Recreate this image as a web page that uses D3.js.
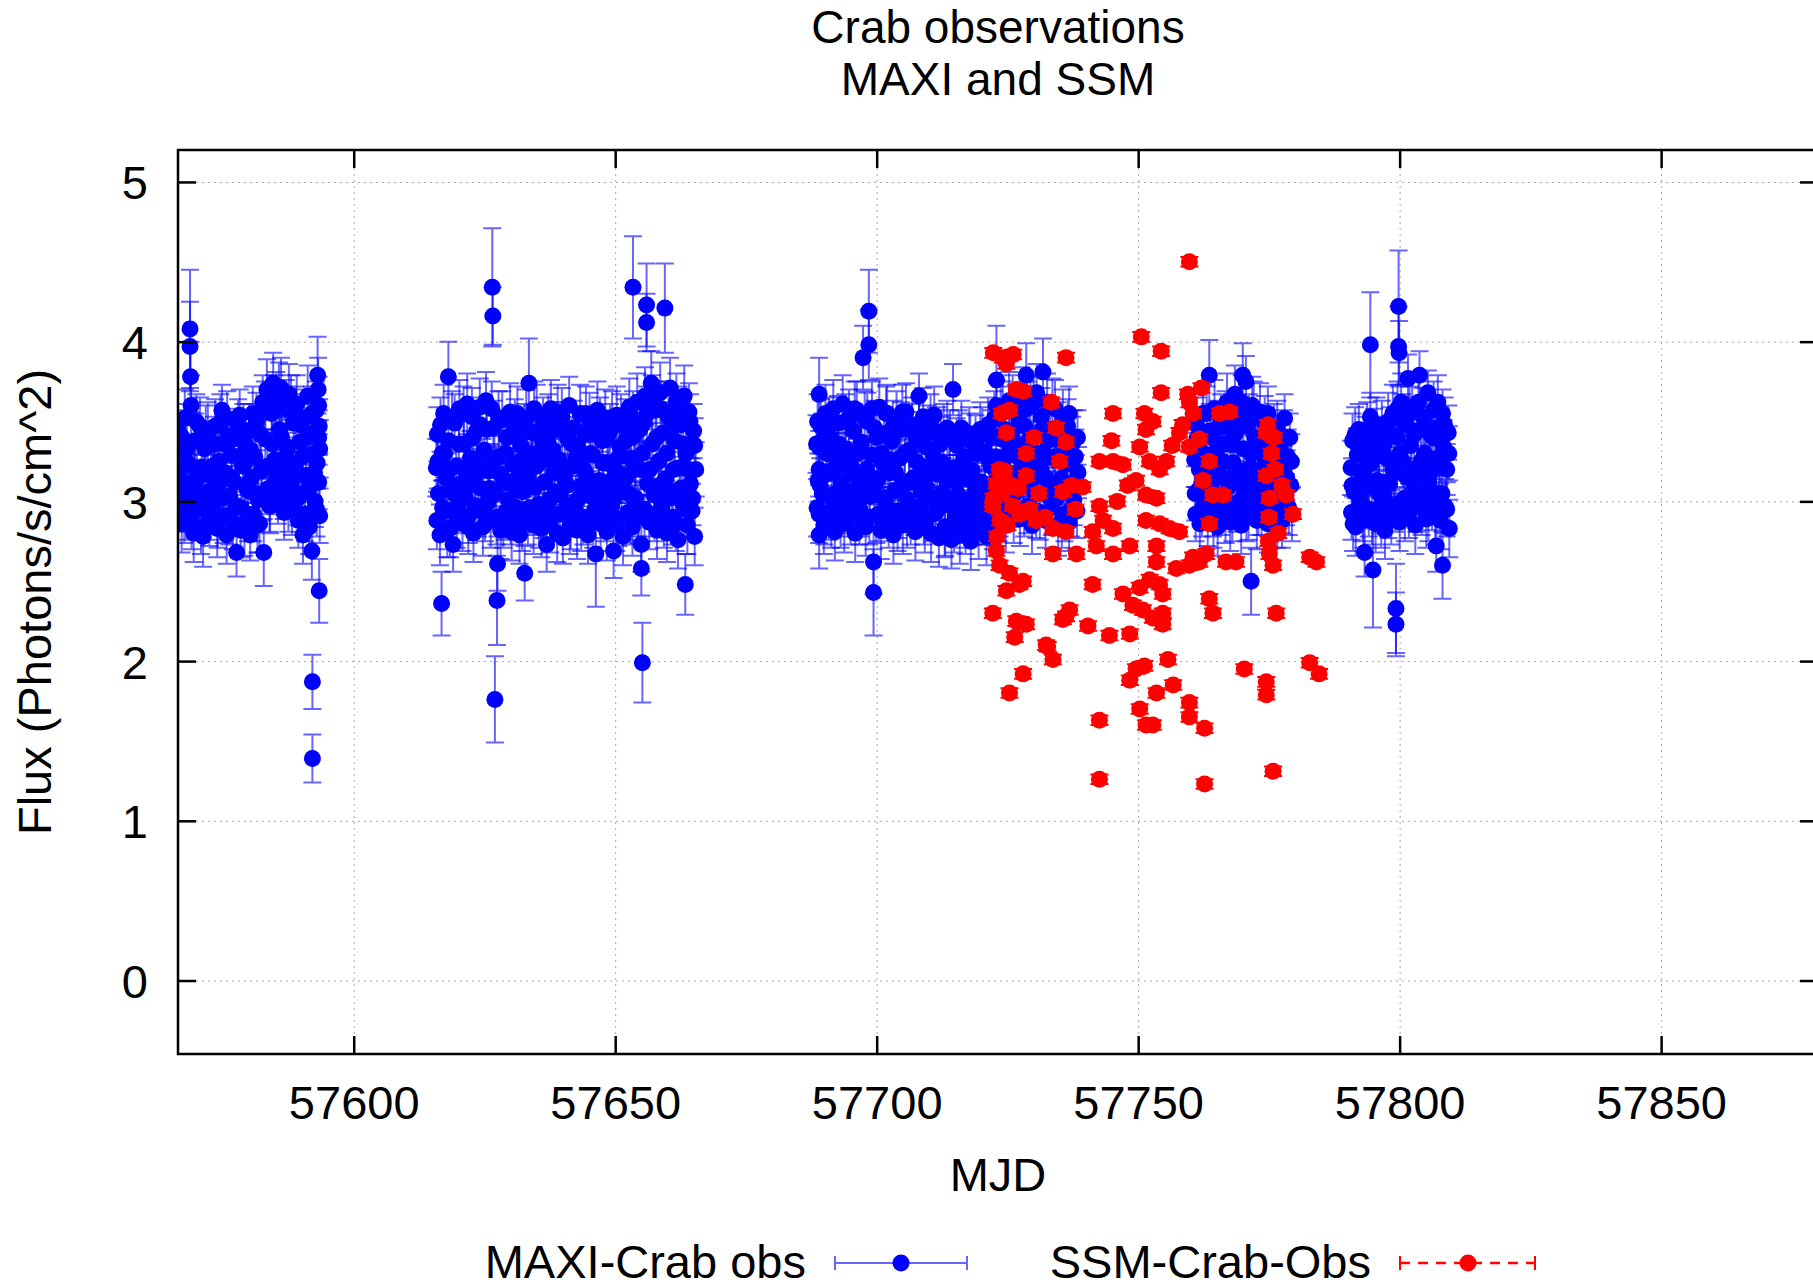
<!DOCTYPE html>
<html>
<head>
<meta charset="utf-8">
<script src="https://cdn.jsdelivr.net/npm/d3@7"></script>
<style>
  body { margin: 0; background: #fff; }
  text { font-family: "Liberation Sans", Arial, Helvetica, sans-serif; fill: #000; }
</style>
</head>
<body>
<script>
// Tick values and labels
const xTicks = [57600, 57650, 57700, 57750, 57800, 57850]
const yTicks = [0, 1, 2, 3, 4, 5]
const titleLines = ['Crab observations', 'MAXI and SSM']
const xLabel = 'MJD'
const yLabel = 'Flux (Photons/s/cm^2)'
const seriesNames = ['MAXI-Crab obs', 'SSM-Crab-Obs']

// MAXI points: [MJD, flux, error], one array per observing window
const maxi1 = [
  [57566.4,3.45,.16],[57566.5,3.19,.17],[57566.4,2.99,.18],[57566.8,3.31,.17],
  [57567.1,2.86,.18],[57567.4,3.12,.16],[57567.7,3.52,.18],
  [57568.0,2.93,.17],[57568.3,3.24,.16],[57568.7,4.08,.37],[57568.7,3.97,.28],[57568.8,3.78,.22],[57568.9,3.60,.19],
  [57569.1,3.05,.17],[57569.4,2.80,.18],[57569.7,3.38,.17],
  [57570.0,3.14,.16],[57570.3,2.95,.17],[57570.6,3.47,.18],[57570.9,3.21,.16],
  [57571.2,2.78,.19],[57571.5,3.33,.17],[57571.8,3.02,.16],
  [57572.1,3.44,.18],[57572.4,2.89,.17],[57572.7,3.16,.16],
  [57573.0,2.97,.17],[57573.3,3.36,.17],[57573.6,3.08,.16],[57573.9,2.83,.18],
  [57574.2,3.25,.17],[57574.5,3.49,.18],[57574.8,3.57,.16],
  [57575.1,2.91,.17],[57575.4,3.18,.16],[57575.7,2.79,.18],
  [57576.0,3.41,.17],[57576.3,3.03,.16],[57576.6,3.29,.17],[57576.9,2.87,.17],
  [57577.2,3.12,.16],[57577.6,2.68,.15],[57577.9,3.46,.18],
  [57578.2,3.54,.16],[57578.5,2.96,.17],[57578.8,3.22,.16],
  [57579.1,2.84,.18],[57579.4,3.35,.17],[57579.7,3.07,.16],
  [57580.0,3.44,.17],[57580.2,2.79,.16],[57580.5,3.15,.16],[57580.8,2.92,.17],
  [57581.1,3.28,.17],[57581.4,3.50,.18],[57581.7,3.01,.16],
  [57582.0,2.86,.18],[57582.3,3.19,.16],[57582.6,3.62,.17],[57582.8,2.68,.21],
  [57583.1,3.39,.17],[57583.4,3.70,.19],[57583.7,3.08,.16],
  [57584.0,2.97,.17],[57584.3,3.55,.18],[57584.6,3.74,.19],[57584.9,3.26,.17],
  [57585.2,3.63,.18],[57585.5,3.02,.16],[57585.8,3.45,.17],
  [57586.1,3.71,.19],[57586.4,3.18,.16],[57586.7,2.93,.17],
  [57587.0,3.58,.18],[57587.3,3.34,.17],[57587.6,3.67,.19],[57587.9,3.10,.16],
  [57588.2,2.96,.17],[57588.5,3.49,.18],[57588.8,3.22,.16],
  [57589.1,3.61,.18],[57589.4,2.88,.17],[57589.7,3.37,.17],
  [57590.0,3.05,.16],[57590.3,2.79,.18],[57590.6,3.52,.18],[57590.9,3.16,.16],
  [57591.2,3.66,.19],[57591.5,2.84,.17],[57591.8,3.29,.17],
  [57592.0,2.69,.18],[57592.1,1.87,.17],[57592.1,1.39,.15],[57592.3,3.43,.18],[57592.6,3.00,.16],
  [57592.8,3.57,.18],[57593.0,3.24,.16],[57593.1,3.79,.24],[57593.2,3.70,.20],[57593.3,3.60,.18],
  [57593.3,3.12,.17],[57593.4,2.44,.20],[57593.4,3.47,.17],[57593.5,2.91,.17],[57593.5,3.33,.18],
  [57566.7,3.08,.17],[57567.2,3.40,.17],[57567.6,2.91,.17],[57568.1,3.33,.17],[57568.5,3.02,.17],
  [57569.0,2.87,.17],[57569.5,3.21,.17],[57569.9,3.50,.17],[57570.4,3.05,.17],[57570.8,2.84,.17],
  [57571.3,3.18,.17],[57571.7,3.43,.17],[57572.2,3.06,.17],[57572.6,2.93,.17],[57573.1,3.22,.17],
  [57573.5,3.47,.17],[57574.0,2.88,.17],[57574.4,3.12,.17],[57574.9,3.02,.17],[57575.3,3.36,.17],
  [57575.8,3.52,.17],[57576.2,2.90,.17],[57576.7,3.15,.17],[57577.1,3.39,.17],[57577.5,2.97,.17],
  [57578.0,3.28,.17],[57578.4,2.82,.17],[57578.9,3.44,.17],[57579.3,3.10,.17],[57579.8,2.92,.17],
  [57580.3,3.32,.17],[57580.7,3.55,.17],[57581.2,3.05,.17],[57581.6,2.85,.17],[57582.1,3.42,.17],
  [57582.5,3.05,.17],[57583.0,3.58,.17],[57583.5,3.22,.17],[57583.9,2.98,.17],[57584.4,3.36,.17],
  [57584.8,3.62,.17],[57585.3,3.15,.17],[57585.7,3.70,.17],[57586.2,3.40,.17],[57586.6,3.06,.17],
  [57587.1,3.28,.17],[57587.5,2.98,.17],[57588.0,3.62,.17],[57588.4,3.14,.17],[57588.9,3.55,.17],
  [57589.3,3.02,.17],[57589.8,3.48,.17],[57590.2,3.28,.17],[57590.7,2.92,.17],[57591.1,3.40,.17],
  [57591.6,3.09,.17],[57592.0,3.55,.17],[57592.5,3.18,.17],[57592.9,2.95,.17],[57593.3,3.40,.17]
]

const maxi2 = [
  [57615.8,3.21,.18],[57615.9,2.88,.18],[57616.0,3.42,.17],[57616.2,3.05,.17],
  [57616.5,2.79,.19],[57616.8,2.36,.20],[57616.9,3.30,.17],
  [57617.2,3.55,.18],[57617.5,2.94,.17],[57617.8,3.14,.16],
  [57618.1,3.78,.22],[57618.1,3.38,.17],[57618.4,2.83,.18],[57618.7,3.07,.16],
  [57619.0,2.73,.17],[57619.3,3.49,.18],[57619.6,3.22,.16],[57619.9,2.97,.17],
  [57620.2,3.58,.18],[57620.5,3.11,.16],[57620.8,2.86,.17],
  [57621.1,3.36,.17],[57621.4,3.02,.16],[57621.7,3.61,.19],
  [57622.0,2.91,.17],[57622.3,3.27,.17],[57622.6,3.53,.18],[57622.9,2.80,.18],
  [57623.2,3.17,.16],[57623.5,3.44,.17],[57623.8,2.95,.17],
  [57624.1,3.59,.18],[57624.4,3.08,.16],[57624.7,2.84,.18],
  [57625.0,3.32,.17],[57625.3,3.63,.18],[57625.6,2.99,.16],[57625.9,3.19,.17],
  [57626.2,2.88,.17],[57626.5,4.34,.37],[57626.6,4.16,.18],[57626.7,3.46,.17],
  [57627.0,1.76,.27],[57627.1,3.05,.16],[57627.4,2.38,.28],[57627.5,2.61,.17],
  [57627.8,3.28,.17],[57628.1,2.82,.18],[57628.4,3.51,.18],
  [57628.7,3.13,.16],[57629.0,2.93,.17],[57629.3,3.40,.17],
  [57629.6,3.01,.16],[57629.9,3.56,.18],[57630.2,2.81,.18],[57630.5,3.23,.16],
  [57630.8,3.47,.17],[57631.1,2.96,.17],[57631.4,3.15,.16],
  [57631.7,2.79,.18],[57632.0,3.35,.17],[57632.3,3.06,.16],
  [57632.7,2.55,.17],[57633.0,3.52,.18],[57633.3,2.90,.17],[57633.5,3.74,.28],
  [57633.8,3.20,.16],[57634.1,3.43,.17],[57634.4,2.85,.18],
  [57634.7,3.09,.16],[57635.0,3.55,.18],[57635.3,2.98,.17],
  [57635.6,3.31,.17],[57635.9,2.83,.18],[57636.2,3.48,.17],[57636.5,3.12,.16],
  [57636.9,2.73,.17],[57637.1,3.37,.17],[57637.4,3.01,.16],
  [57637.7,3.58,.18],[57638.0,2.92,.17],[57638.3,3.18,.16],
  [57638.6,3.45,.17],[57638.9,2.80,.18],[57639.2,3.26,.17],[57639.5,3.04,.16],
  [57639.8,3.53,.18],[57640.0,2.77,.16],[57640.3,3.14,.16],
  [57640.6,2.95,.17],[57640.9,3.39,.17],[57641.2,3.60,.18],
  [57641.5,2.87,.17],[57641.8,3.22,.16],[57642.1,3.46,.17],[57642.4,3.00,.16],
  [57642.7,2.82,.18],[57643.0,3.33,.17],[57643.3,3.55,.18],
  [57643.6,3.10,.16],[57643.9,2.90,.17],[57644.2,3.42,.17],
  [57644.5,3.17,.16],[57644.8,2.79,.18],[57645.1,3.50,.18],[57645.4,3.03,.16],
  [57645.7,3.29,.17],[57646.0,2.94,.17],[57646.3,2.67,.33],
  [57646.6,3.57,.18],[57646.9,3.13,.16],[57647.2,2.86,.17],
  [57647.5,3.38,.17],[57647.8,3.06,.16],[57648.1,3.52,.18],[57648.4,2.81,.18],
  [57648.7,3.24,.16],[57649.0,3.44,.17],[57649.3,2.97,.17],
  [57649.7,2.69,.17],[57650.0,3.19,.16],[57650.3,3.54,.18],
  [57650.6,2.89,.17],[57650.9,3.34,.17],[57651.2,3.08,.16],[57651.5,2.78,.18],
  [57651.8,3.47,.17],[57652.1,3.15,.16],[57652.4,2.93,.17],
  [57652.7,3.59,.18],[57653.0,3.27,.17],[57653.4,4.34,.32],[57653.3,2.84,.18],
  [57653.6,3.41,.17],[57653.9,3.02,.16],[57654.2,3.62,.18],
  [57654.5,2.91,.17],[57654.8,3.20,.16],[57655.0,2.73,.17],[57655.0,2.58,.17],[57655.2,1.99,.25],
  [57655.4,3.49,.17],[57655.7,3.66,.18],[57656.0,4.23,.26],[57656.0,4.12,.18],[57656.2,3.11,.16],
  [57656.5,2.87,.17],[57656.9,3.74,.20],[57657.1,3.36,.17],
  [57657.4,3.04,.16],[57657.7,3.57,.18],[57658.0,2.82,.18],[57658.3,3.25,.17],
  [57658.6,3.68,.19],[57658.9,2.96,.17],[57659.2,3.43,.17],
  [57659.5,4.21,.28],[57659.6,3.14,.16],[57659.9,2.80,.18],
  [57660.2,3.53,.18],[57660.5,3.71,.19],[57660.8,3.06,.16],[57661.1,2.90,.17],
  [57661.4,3.38,.17],[57661.7,3.62,.18],[57662.0,2.76,.18],
  [57662.3,3.21,.16],[57662.6,3.48,.17],[57662.9,2.99,.17],
  [57663.2,3.66,.19],[57663.4,2.48,.19],[57663.5,3.30,.17],[57663.8,2.85,.18],
  [57664.1,3.56,.18],[57664.4,3.11,.16],[57664.7,2.94,.17],
  [57665.0,3.44,.17],[57665.2,2.78,.18],[57665.4,3.20,.17],
  [57616.1,3.25,.17],[57616.6,3.48,.17],[57617.0,2.96,.17],[57617.4,3.30,.17],[57617.9,2.82,.17],
  [57618.3,3.20,.17],[57618.8,3.52,.17],[57619.2,3.05,.17],[57619.7,2.88,.17],[57620.1,3.36,.17],
  [57620.6,3.02,.17],[57621.0,3.55,.17],[57621.5,3.18,.17],[57621.9,2.84,.17],[57622.4,3.10,.17],
  [57622.8,3.40,.17],[57623.3,2.97,.17],[57623.7,3.25,.17],[57624.2,3.48,.17],[57624.6,3.22,.17],
  [57625.1,2.92,.17],[57625.5,3.45,.17],[57626.0,3.08,.17],[57626.4,3.58,.17],[57626.9,3.26,.17],
  [57627.3,2.90,.17],[57627.7,3.52,.17],[57628.2,3.17,.17],[57628.6,2.88,.17],[57629.1,3.30,.17],
  [57629.5,3.12,.17],[57630.0,2.90,.17],[57630.4,3.41,.17],[57630.9,3.08,.17],[57631.3,3.55,.17],
  [57631.8,3.25,.17],[57632.2,2.86,.17],[57632.6,3.44,.17],[57633.1,3.14,.17],[57633.6,2.96,.17],
  [57634.0,3.30,.17],[57634.5,3.58,.17],[57634.9,3.22,.17],[57635.4,2.88,.17],[57635.8,3.40,.17],
  [57636.3,2.94,.17],[57636.7,3.26,.17],[57637.2,3.50,.17],[57637.6,2.85,.17],[57638.1,3.32,.17],
  [57638.5,3.06,.17],[57639.0,3.56,.17],[57639.4,2.92,.17],[57639.9,3.18,.17],[57640.4,3.45,.17],
  [57640.8,3.10,.17],[57641.3,2.84,.17],[57641.7,3.36,.17],[57642.2,2.96,.17],[57642.6,3.28,.17],
  [57643.1,3.02,.17],[57643.5,2.86,.17],[57644.0,3.20,.17],[57644.4,3.55,.17],[57644.9,3.08,.17],
  [57645.3,3.30,.17],[57645.8,2.88,.17],[57646.2,3.42,.17],[57646.7,3.00,.17],[57647.1,3.48,.17],
  [57647.6,3.24,.17],[57648.0,2.92,.17],[57648.5,3.40,.17],[57648.9,3.12,.17],[57649.4,3.52,.17],
  [57649.8,3.02,.17],[57650.2,2.86,.17],[57650.7,3.28,.17],[57651.1,3.50,.17],[57651.6,3.16,.17],
  [57652.0,3.38,.17],[57652.5,3.05,.17],[57652.9,2.90,.17],[57653.4,3.52,.17],[57653.8,3.20,.17],
  [57654.3,2.95,.17],[57654.7,3.45,.17],[57655.2,3.30,.17],[57655.6,2.95,.17],[57656.1,3.55,.17],
  [57656.6,3.20,.17],[57657.0,3.62,.17],[57657.5,2.92,.17],[57657.9,3.40,.17],[57658.4,3.10,.17],
  [57658.8,3.58,.17],[57659.3,2.88,.17],[57659.8,3.30,.17],[57660.3,3.02,.17],[57660.7,3.45,.17],
  [57661.2,3.20,.17],[57661.6,2.86,.17],[57662.1,3.55,.17],[57662.5,3.08,.17],[57663.0,3.36,.17],
  [57663.4,2.95,.17],[57663.9,3.20,.17],[57664.3,3.50,.17],[57664.8,3.02,.17],[57665.2,3.35,.17]
]

const maxi3 = [
  [57688.5,3.36,.18],[57688.6,2.96,.18],[57688.8,3.13,.17],
  [57689.0,3.67,.23],[57689.0,3.34,.18],[57689.0,3.20,.17],[57689.0,2.92,.18],[57689.0,2.79,.21],
  [57689.3,3.47,.17],[57689.6,3.05,.16],[57689.9,2.85,.18],
  [57690.2,3.55,.18],[57690.5,3.17,.16],[57690.8,2.93,.17],
  [57691.1,3.40,.17],[57691.4,3.02,.16],[57691.7,3.58,.18],[57692.0,2.81,.18],
  [57692.3,3.26,.17],[57692.6,3.49,.17],[57692.9,2.97,.17],
  [57693.2,3.12,.16],[57693.5,3.61,.18],[57693.8,2.86,.18],
  [57694.1,3.33,.17],[57694.4,3.06,.16],[57694.7,3.52,.18],[57695.0,2.90,.17],
  [57695.3,3.21,.16],[57695.6,3.44,.17],[57695.9,2.80,.18],
  [57696.2,3.57,.18],[57696.5,3.09,.16],[57696.8,2.95,.17],
  [57697.1,3.37,.17],[57697.4,3.90,.20],[57697.6,3.16,.16],[57697.9,2.84,.18],
  [57698.2,3.50,.18],[57698.5,4.19,.26],[57698.5,3.98,.22],[57698.7,3.03,.16],
  [57699.0,3.29,.17],[57699.4,2.62,.20],[57699.4,2.43,.27],[57699.6,3.46,.17],
  [57699.9,2.91,.17],[57700.2,3.14,.16],[57700.5,3.59,.18],
  [57700.8,2.82,.18],[57701.1,3.24,.17],[57701.4,3.42,.17],[57701.7,3.00,.16],
  [57702.0,3.55,.18],[57702.3,2.88,.17],[57702.6,3.18,.16],
  [57702.9,3.38,.17],[57703.2,2.79,.18],[57703.5,3.07,.16],
  [57703.8,3.51,.18],[57704.1,2.94,.17],[57704.4,3.27,.17],[57704.7,3.45,.17],
  [57705.0,2.85,.18],[57705.3,3.11,.16],[57705.6,3.56,.18],
  [57705.9,3.01,.16],[57706.2,3.32,.17],[57706.5,2.90,.17],
  [57706.8,3.48,.17],[57707.1,3.15,.16],[57707.4,2.81,.18],[57707.7,3.39,.17],
  [57708.1,3.66,.14],[57708.3,2.97,.17],[57708.6,3.22,.16],
  [57708.9,3.53,.18],[57709.2,2.86,.18],[57709.5,3.09,.16],
  [57709.8,3.43,.17],[57710.1,3.02,.16],[57710.4,2.80,.18],[57710.7,3.30,.17],
  [57711.0,3.54,.18],[57711.3,2.93,.17],[57711.6,3.17,.16],
  [57711.9,2.77,.18],[57712.2,3.36,.17],[57712.5,3.05,.16],
  [57712.8,3.44,.17],[57713.1,2.84,.18],[57713.4,3.13,.16],[57713.7,2.98,.17],
  [57714.0,3.40,.17],[57714.3,2.76,.18],[57714.6,3.70,.16],[57714.7,3.21,.16],
  [57715.0,2.91,.17],[57715.3,3.35,.17],[57715.6,3.04,.16],
  [57715.9,2.79,.18],[57716.2,3.46,.17],[57716.5,3.16,.16],[57716.8,2.88,.17],
  [57717.1,3.28,.17],[57717.4,3.01,.16],[57717.7,3.42,.17],
  [57718.0,2.75,.18],[57718.3,3.19,.16],[57718.6,2.94,.17],
  [57718.9,3.37,.17],[57719.2,3.08,.16],[57719.5,2.82,.18],[57719.8,3.45,.17],
  [57720.1,3.12,.16],[57720.4,2.90,.17],[57720.7,3.31,.17],
  [57721.0,2.78,.18],[57721.3,3.48,.17],[57721.6,3.03,.16],
  [57721.9,3.22,.16],[57722.2,2.87,.17],[57722.5,3.52,.17],[57722.9,3.76,.34],[57722.9,3.60,.16],
  [57723.2,3.14,.16],[57723.5,2.95,.17],[57723.8,3.39,.17],
  [57724.1,3.57,.18],[57724.4,3.06,.16],[57724.7,2.86,.18],[57725.0,3.29,.17],
  [57725.3,3.63,.18],[57725.6,3.00,.16],[57725.9,3.44,.17],
  [57726.2,2.91,.17],[57726.5,3.18,.16],[57726.8,3.55,.18],
  [57727.1,3.35,.17],[57727.4,2.89,.17],[57727.7,3.66,.18],[57728.0,3.10,.16],
  [57728.3,3.47,.17],[57728.6,3.79,.20],[57728.8,2.97,.17],
  [57729.1,3.24,.16],[57729.4,3.60,.18],[57729.7,2.85,.18],
  [57730.0,3.41,.17],[57730.3,3.05,.16],[57730.6,3.68,.18],[57730.9,3.16,.16],
  [57731.2,2.93,.17],[57731.5,3.53,.18],[57731.8,3.81,.21],[57732.0,3.30,.17],
  [57732.3,2.88,.17],[57732.6,3.62,.18],[57732.9,3.08,.16],
  [57733.2,3.45,.17],[57733.5,2.96,.17],[57733.8,3.27,.17],[57734.1,3.58,.18],
  [57734.4,3.02,.16],[57734.7,2.84,.18],[57735.0,3.38,.17],
  [57735.3,3.14,.16],[57735.6,3.52,.18],[57735.9,2.92,.17],
  [57736.2,3.23,.16],[57736.5,3.47,.17],[57736.8,2.87,.18],[57737.1,3.11,.16],
  [57737.4,3.36,.17],[57737.7,3.01,.16],[57738.0,3.28,.17],[57738.3,2.94,.17],[57738.5,3.18,.16],
  [57688.7,3.50,.17],[57689.2,3.10,.17],[57689.6,3.38,.17],[57690.0,2.90,.17],[57690.4,3.30,.17],
  [57690.9,3.48,.17],[57691.3,2.88,.17],[57691.8,3.20,.17],[57692.2,3.05,.17],[57692.7,3.36,.17],
  [57693.1,2.88,.17],[57693.6,3.25,.17],[57694.0,3.50,.17],[57694.5,2.95,.17],[57694.9,3.18,.17],
  [57695.4,3.02,.17],[57695.8,3.58,.17],[57696.3,3.30,.17],[57696.7,2.90,.17],[57697.2,3.05,.17],
  [57697.7,3.52,.17],[57698.1,3.20,.17],[57698.6,2.90,.17],[57699.1,3.58,.17],[57699.5,3.10,.17],
  [57700.0,3.40,.17],[57700.4,2.92,.17],[57700.9,3.30,.17],[57701.3,3.02,.17],[57701.8,3.55,.17],
  [57702.2,3.26,.17],[57702.7,2.94,.17],[57703.1,3.46,.17],[57703.6,3.18,.17],[57704.0,2.86,.17],
  [57704.5,3.08,.17],[57704.9,3.56,.17],[57705.4,3.30,.17],[57705.8,2.88,.17],[57706.3,3.12,.17],
  [57706.7,3.44,.17],[57707.2,2.96,.17],[57707.6,3.25,.17],[57708.1,3.48,.17],[57708.5,3.06,.17],
  [57709.0,2.90,.17],[57709.4,3.34,.17],[57709.9,3.18,.17],[57710.3,3.50,.17],[57710.8,2.92,.17],
  [57711.2,3.22,.17],[57711.7,3.42,.17],[57712.1,2.96,.17],[57712.6,3.24,.17],[57713.0,2.82,.17],
  [57713.5,3.46,.17],[57713.9,3.18,.17],[57714.4,3.02,.17],[57714.8,2.85,.17],[57715.3,3.12,.17],
  [57715.7,3.40,.17],[57716.1,2.98,.17],[57716.6,3.26,.17],[57717.0,2.84,.17],[57717.5,3.14,.17],
  [57717.9,3.38,.17],[57718.4,2.90,.17],[57718.8,3.05,.17],[57719.3,3.30,.17],[57719.7,2.96,.17],
  [57720.2,3.42,.17],[57720.6,3.10,.17],[57721.1,2.90,.17],[57721.5,3.26,.17],[57722.0,3.40,.17],
  [57722.4,3.05,.17],[57722.8,3.28,.17],[57723.3,2.92,.17],[57723.7,3.55,.17],[57724.2,3.25,.17],
  [57724.6,3.45,.17],[57725.1,3.05,.17],[57725.5,3.35,.17],[57726.0,3.62,.17],[57726.4,3.05,.17],
  [57726.9,3.28,.17],[57727.3,3.50,.17],[57727.8,3.20,.17],[57728.2,2.95,.17],[57728.7,3.58,.17],
  [57729.1,3.38,.17],[57729.6,3.08,.17],[57730.0,3.62,.17],[57730.5,2.94,.17],[57730.9,3.30,.17],
  [57731.4,3.20,.17],[57731.8,3.46,.17],[57732.3,3.15,.17],[57732.7,3.38,.17],[57733.2,3.02,.17],
  [57733.6,3.60,.17],[57734.1,3.28,.17],[57734.5,3.45,.17],[57735.0,3.05,.17],[57735.4,2.88,.17],
  [57735.9,3.30,.17],[57736.3,3.10,.17],[57736.8,3.55,.17],[57737.2,2.95,.17],[57737.7,3.40,.17],
  [57738.1,3.12,.17],[57738.4,3.40,.17]
]

const maxi4 = [
  [57760.8,3.26,.17],[57761.0,2.92,.17],[57761.2,3.48,.17],
  [57761.5,3.07,.16],[57761.8,2.86,.18],[57762.1,3.39,.17],
  [57762.4,3.55,.18],[57762.7,3.01,.16],[57763.0,3.20,.16],[57763.3,2.89,.17],
  [57763.6,3.79,.22],[57763.7,3.44,.17],[57764.0,3.12,.16],
  [57764.3,2.95,.17],[57764.6,3.58,.18],[57764.9,3.31,.17],
  [57765.2,2.84,.18],[57765.5,3.17,.16],[57765.8,3.50,.17],[57766.1,3.04,.16],
  [57766.4,3.36,.17],[57766.7,2.91,.17],[57767.0,3.62,.18],
  [57767.3,3.09,.16],[57767.6,2.87,.18],[57767.9,3.45,.17],
  [57768.2,3.24,.16],[57768.5,3.67,.18],[57768.8,2.98,.17],[57769.1,3.15,.16],
  [57769.4,3.53,.18],[57769.7,2.85,.18],[57770.0,3.79,.20],[57770.1,3.33,.17],
  [57770.4,3.06,.16],[57770.6,3.75,.16],[57770.8,3.47,.17],
  [57771.1,2.93,.17],[57771.4,3.21,.16],[57771.6,2.50,.21],[57771.8,3.60,.18],
  [57772.1,3.02,.16],[57772.4,3.40,.17],[57772.7,2.88,.18],
  [57773.0,3.18,.16],[57773.3,3.56,.18],[57773.6,2.96,.17],[57773.9,3.29,.17],
  [57774.2,3.49,.17],[57774.5,3.08,.16],[57774.8,2.86,.18],
  [57775.1,3.37,.17],[57775.4,3.13,.16],[57775.7,2.94,.17],
  [57776.0,3.44,.17],[57776.3,3.22,.16],[57776.6,2.89,.18],[57776.9,3.05,.16],
  [57777.2,3.35,.17],[57777.5,2.97,.17],[57777.8,3.19,.16],
  [57778.0,3.52,.15],[57778.3,3.01,.16],[57778.6,3.28,.17],
  [57779.0,3.40,.15],[57779.2,3.10,.16],[57779.4,2.92,.17],
  [57760.9,3.05,.17],[57761.3,3.40,.17],[57761.7,3.20,.17],[57762.2,2.95,.17],[57762.6,3.30,.17],
  [57763.1,3.55,.17],[57763.5,3.08,.17],[57764.0,3.40,.17],[57764.4,2.88,.17],[57764.9,3.15,.17],
  [57765.3,3.46,.17],[57765.8,2.96,.17],[57766.2,3.25,.17],[57766.7,3.52,.17],[57767.1,3.14,.17],
  [57767.6,3.36,.17],[57768.0,2.92,.17],[57768.5,3.42,.17],[57768.9,3.20,.17],[57769.4,3.00,.17],
  [57769.8,3.62,.17],[57770.3,3.15,.17],[57770.7,2.92,.17],[57771.2,3.50,.17],[57771.6,3.30,.17],
  [57772.1,3.58,.17],[57772.5,3.12,.17],[57773.0,2.96,.17],[57773.4,3.36,.17],[57773.9,3.05,.17],
  [57774.3,3.25,.17],[57774.8,3.55,.17],[57775.2,2.92,.17],[57775.7,3.20,.17],[57776.1,3.10,.17],
  [57776.6,3.46,.17],[57777.0,3.22,.17],[57777.5,2.88,.17],[57777.9,3.40,.17],[57778.4,3.15,.17],
  [57778.8,2.96,.17],[57779.3,3.25,.17]
]

const maxi5 = [
  [57790.7,3.21,.17],[57790.8,2.93,.17],[57791.0,3.38,.17],
  [57791.3,3.06,.16],[57791.6,2.84,.18],[57791.9,3.29,.17],
  [57792.2,3.45,.16],[57792.5,3.00,.16],[57792.8,3.15,.16],[57793.1,2.88,.17],
  [57793.3,2.68,.15],[57793.5,3.36,.17],[57793.8,3.09,.16],
  [57794.1,2.95,.17],[57794.4,3.98,.33],[57794.4,3.53,.15],[57794.6,3.24,.16],
  [57794.9,2.57,.36],[57795.1,3.41,.17],[57795.4,2.86,.18],[57795.7,3.13,.16],
  [57796.0,3.33,.17],[57796.3,2.97,.17],[57796.6,3.46,.17],
  [57796.9,3.04,.16],[57797.2,2.82,.18],[57797.5,3.27,.17],[57797.8,3.50,.18],
  [57798.1,3.11,.16],[57798.4,2.90,.17],[57798.7,3.55,.18],
  [57799.0,3.18,.16],[57799.3,2.33,.28],[57799.3,2.23,.20],[57799.5,3.40,.17],
  [57799.8,4.22,.35],[57799.8,3.97,.25],[57799.9,3.93,.20],[57800.0,2.87,.18],
  [57800.3,3.62,.18],[57800.6,3.25,.17],[57800.9,3.02,.16],
  [57801.2,3.48,.17],[57801.6,3.77,.15],[57801.8,2.94,.17],[57802.1,3.35,.17],
  [57802.4,3.59,.18],[57802.7,3.07,.16],[57803.0,2.85,.18],
  [57803.3,3.44,.17],[57803.8,3.79,.15],[57803.9,3.16,.16],
  [57804.2,2.96,.17],[57804.5,3.53,.18],[57804.8,3.30,.17],[57805.1,2.89,.18],
  [57805.4,3.68,.14],[57805.6,3.12,.16],[57805.9,3.42,.17],
  [57806.2,2.99,.17],[57806.5,3.57,.18],[57806.8,3.23,.16],
  [57807.0,2.72,.16],[57807.2,3.46,.17],[57807.5,3.05,.16],[57807.8,2.88,.18],
  [57808.2,3.55,.15],[57808.2,2.60,.21],[57808.4,3.34,.17],
  [57808.7,2.97,.17],[57809.0,3.20,.16],[57809.3,3.43,.17],[57809.5,2.83,.18],
  [57790.9,3.10,.17],[57791.1,2.86,.17],[57791.5,3.42,.17],[57792.0,3.05,.17],[57792.4,3.30,.17],
  [57792.9,2.92,.17],[57793.3,3.20,.17],[57793.8,3.45,.17],[57794.2,3.12,.17],[57794.7,2.90,.17],
  [57795.2,3.28,.17],[57795.6,3.48,.17],[57796.1,3.05,.17],[57796.5,2.88,.17],[57797.0,3.36,.17],
  [57797.4,3.12,.17],[57797.9,2.94,.17],[57798.3,3.42,.17],[57798.8,3.20,.17],[57799.2,2.98,.17],
  [57799.6,3.58,.17],[57800.1,3.30,.17],[57800.5,3.50,.17],[57801.0,2.92,.17],[57801.4,3.15,.17],
  [57801.9,3.55,.17],[57802.3,3.20,.17],[57802.8,3.42,.17],[57803.2,2.98,.17],[57803.6,3.62,.17],
  [57804.1,3.25,.17],[57804.6,3.05,.17],[57805.0,3.48,.17],[57805.5,2.92,.17],[57805.9,3.18,.17],
  [57806.4,3.40,.17],[57806.8,2.90,.17],[57807.3,3.62,.17],[57807.7,3.28,.17],[57808.1,3.05,.17],
  [57808.6,3.48,.17],[57809.0,2.95,.17],[57809.4,3.30,.17]
]

// SSM points: [MJD, flux, error]
const ssm = [
  [57759.8,4.50,.03],[57750.6,4.03,.03],[57754.4,3.94,.03],[57722.3,3.93,.03],[57724.1,3.90,.03],
  [57726.1,3.92,.03],[57724.8,3.86,.03],[57736.2,3.90,.03],[57726.7,3.70,.03],[57728.0,3.69,.03],
  [57754.4,3.68,.03],[57762.1,3.71,.03],[57759.5,3.67,.03],[57733.4,3.62,.03],[57725.4,3.57,.03],
  [57723.9,3.55,.03],[57745.2,3.55,.03],[57751.2,3.55,.03],[57752.8,3.50,.03],[57751.5,3.45,.03],
  [57758.5,3.48,.03],[57759.8,3.62,.03],[57760.5,3.55,.03],[57767.5,3.56,.03],[57765.6,3.55,.03],
  [57724.8,3.43,.03],[57734.3,3.46,.03],[57744.9,3.38,.03],[57774.5,3.43,.03],[57774.8,3.48,.03],
  [57730.1,3.40,.03],[57728.6,3.30,.03],[57736.2,3.37,.03],[57742.6,3.25,.03],[57745.2,3.25,.03],
  [57747.1,3.23,.03],[57750.3,3.34,.03],[57752.2,3.25,.03],[57754.1,3.20,.03],[57755.4,3.25,.03],
  [57756.5,3.35,.03],[57757.9,3.43,.03],[57759.8,3.34,.03],[57761.7,3.39,.03],[57763.6,3.25,.03],
  [57776.0,3.40,.03],[57775.5,3.30,.03],[57776.2,3.20,.03],[57724.4,3.19,.03],[57723.5,3.20,.03],
  [57774.5,3.16,.03],[57777.5,3.10,.03],[57775.1,3.02,.03],[57778.3,3.04,.03],[57779.6,2.92,.03],
  [57722.9,3.11,.03],[57722.3,3.02,.03],[57722.2,2.97,.03],[57724.0,3.05,.03],[57725.8,3.10,.03],
  [57726.0,2.97,.03],[57727.1,3.08,.03],[57728.6,3.16,.03],[57729.3,2.95,.03],[57731.0,3.05,.03],
  [57732.2,2.90,.03],[57735.0,3.25,.03],[57735.6,3.06,.03],[57737.3,3.10,.03],[57738.0,2.95,.03],
  [57739.4,3.09,.03],[57746.0,3.00,.03],[57748.0,3.10,.03],[57749.6,3.13,.03],[57751.5,3.04,.03],
  [57753.5,3.02,.03],[57762.4,3.13,.03],[57764.3,3.04,.03],[57766.2,3.04,.03],[57742.6,2.97,.03],
  [57723.6,2.88,.03],[57725.0,2.85,.03],[57727.3,2.92,.03],[57730.5,2.88,.03],[57733.7,2.83,.03],
  [57736.2,2.81,.03],[57741.3,2.81,.03],[57743.3,2.88,.03],[57745.2,2.83,.03],[57751.5,2.88,.03],
  [57754.1,2.86,.03],[57756.0,2.83,.03],[57757.9,2.81,.03],[57763.6,2.86,.03],[57775.0,2.90,.03],
  [57776.8,2.80,.03],[57774.9,2.75,.03],[57723.0,2.78,.03],
  [57722.9,2.69,.03],[57723.5,2.60,.03],[57725.4,2.55,.03],[57733.7,2.67,.03],[57738.2,2.67,.03],
  [57742.0,2.72,.03],[57745.2,2.67,.03],[57748.4,2.72,.03],[57753.5,2.72,.03],[57753.5,2.62,.03],
  [57760.5,2.65,.03],[57763.0,2.67,.03],[57766.8,2.62,.03],[57768.7,2.62,.03],[57775.1,2.67,.03],
  [57775.8,2.60,.03],[57782.8,2.65,.03],[57784.1,2.62,.03],
  [57727.3,2.48,.03],[57724.8,2.44,.03],[57728.0,2.50,.03],[57741.3,2.48,.03],[57747.1,2.42,.03],
  [57749.0,2.35,.03],[57750.3,2.46,.03],[57752.2,2.51,.03],[57754.1,2.48,.03],[57754.7,2.42,.03],
  [57757.3,2.58,.03],[57759.8,2.60,.03],[57761.7,2.62,.03],[57763.6,2.39,.03],[57764.3,2.30,.03],
  [57722.2,2.30,.03],[57726.7,2.25,.03],[57728.6,2.23,.03],[57726.4,2.15,.03],[57735.6,2.26,.03],
  [57736.2,2.28,.03],[57736.9,2.32,.03],[57740.4,2.22,.03],[57744.5,2.16,.03],[57748.4,2.17,.03],
  [57750.9,2.32,.03],[57752.8,2.27,.03],[57754.7,2.23,.03],[57754.7,2.30,.03],[57776.4,2.30,.03],
  [57732.4,2.10,.03],[57732.7,2.09,.03],[57733.7,2.01,.03],[57749.6,1.95,.03],[57751.2,1.97,.03],
  [57748.4,1.88,.03],[57755.7,2.01,.03],[57756.7,1.85,.03],[57753.5,1.80,.03],[57728.0,1.92,.03],
  [57725.4,1.80,.03],[57770.3,1.95,.03],[57774.5,1.87,.03],[57774.5,1.79,.03],[57782.8,1.99,.03],
  [57784.6,1.92,.03],[57742.6,1.63,.03],[57750.3,1.70,.03],[57751.5,1.60,.03],[57752.8,1.60,.03],
  [57759.8,1.74,.03],[57759.8,1.65,.03],[57762.7,1.58,.03],[57742.6,1.26,.03],[57762.7,1.23,.03],
  [57775.8,1.31,.03]
]

const maxi = [].concat(maxi1, maxi2, maxi3, maxi4, maxi5)

const width = 1813
const height = 1287
const fontSize = 47
const pointRadius = 8.5
const capHalf = 9
const tickLength = 18

// Plot frame (right edge sits just past the window, as in the original)
const plot = { left: 178, top: 150, right: 1818, bottom: 1054 }

const xScale = d3.scaleLinear()
  .domain([57566.4, 57880])
  .range([plot.left, plot.right])

const yScale = d3.scaleLinear()
  .domain([-0.46, 5.2])
  .range([plot.bottom, plot.top])

const svg = d3.select('body').append('svg')
  .attr('width', width)
  .attr('height', height)

svg.append('defs').append('clipPath')
  .attr('id', 'plot-clip')
  .append('rect')
  .attr('x', plot.left)
  .attr('y', plot.top)
  .attr('width', plot.right - plot.left)
  .attr('height', plot.bottom - plot.top)

// Dotted grid
const grid = svg.append('g')
  .attr('stroke', '#a8a8a8')
  .attr('stroke-width', 1)
  .attr('stroke-dasharray', '2,4')

grid.selectAll('.grid-x').data(xTicks).join('line')
  .attr('class', 'grid-x')
  .attr('x1', d => xScale(d) + 0.5)
  .attr('x2', d => xScale(d) + 0.5)
  .attr('y1', plot.top)
  .attr('y2', plot.bottom)

grid.selectAll('.grid-y').data(yTicks).join('line')
  .attr('class', 'grid-y')
  .attr('x1', plot.left)
  .attr('x2', plot.right)
  .attr('y1', d => yScale(d) + 0.5)
  .attr('y2', d => yScale(d) + 0.5)

function errorPath(d) {
  const x = xScale(d[0])
  const lo = yScale(d[1] - d[2])
  const hi = yScale(d[1] + d[2])
  return `M${x},${lo}V${hi}M${x - capHalf},${lo}h${2 * capHalf}M${x - capHalf},${hi}h${2 * capHalf}`
}

const marks = svg.append('g').attr('clip-path', 'url(#plot-clip)')

// MAXI: bars first, then the points
marks.append('g')
  .attr('fill', 'none')
  .attr('stroke', '#0000ff')
  .attr('stroke-opacity', 0.6)
  .attr('stroke-width', 2)
  .selectAll('path').data(maxi).join('path')
  .attr('d', errorPath)

marks.append('g')
  .attr('fill', '#0000ff')
  .selectAll('circle').data(maxi).join('circle')
  .attr('cx', d => xScale(d[0]))
  .attr('cy', d => yScale(d[1]))
  .attr('r', pointRadius)

// SSM on top
marks.append('g')
  .attr('fill', 'none')
  .attr('stroke', '#ff0000')
  .attr('stroke-width', 2)
  .selectAll('path').data(ssm).join('path')
  .attr('d', errorPath)

marks.append('g')
  .attr('fill', '#ff0000')
  .selectAll('circle').data(ssm).join('circle')
  .attr('cx', d => xScale(d[0]))
  .attr('cy', d => yScale(d[1]))
  .attr('r', pointRadius)

// Axes with inward ticks on all four sides
function styleAxis(g) {
  g.select('.domain').remove()
  g.attr('font-family', null).attr('font-size', fontSize)
  g.selectAll('line').attr('stroke', '#000').attr('stroke-width', 2.5)
}

svg.append('g')
  .attr('transform', `translate(0,${plot.bottom})`)
  .call(d3.axisBottom(xScale).tickValues(xTicks).tickSize(-tickLength).tickPadding(32).tickFormat(d3.format('d')))
  .call(styleAxis)

svg.append('g')
  .attr('transform', `translate(0,${plot.top})`)
  .call(d3.axisTop(xScale).tickValues(xTicks).tickSize(-tickLength).tickFormat(''))
  .call(styleAxis)

svg.append('g')
  .attr('transform', `translate(${plot.left},0)`)
  .call(d3.axisLeft(yScale).tickValues(yTicks).tickSize(-tickLength).tickPadding(30).tickFormat(d3.format('d')))
  .call(styleAxis)
  .call(g => g.selectAll('text').attr('dy', '0.36em'))

svg.append('g')
  .attr('transform', `translate(${plot.right},0)`)
  .call(d3.axisRight(yScale).tickValues(yTicks).tickSize(-tickLength).tickFormat(''))
  .call(styleAxis)

svg.append('rect')
  .attr('x', plot.left)
  .attr('y', plot.top)
  .attr('width', plot.right - plot.left)
  .attr('height', plot.bottom - plot.top)
  .attr('fill', 'none')
  .attr('stroke', '#000')
  .attr('stroke-width', 2.5)

// Titles and labels
const midX = (plot.left + plot.right) / 2

svg.selectAll('.title').data(titleLines).join('text')
  .attr('class', 'title')
  .attr('x', midX)
  .attr('y', (d, i) => 43 + i * 52)
  .attr('text-anchor', 'middle')
  .attr('font-size', 46)
  .text(d => d)

svg.append('text')
  .attr('x', midX)
  .attr('y', 1191)
  .attr('text-anchor', 'middle')
  .attr('font-size', fontSize)
  .text(xLabel)

svg.append('text')
  .attr('transform', `translate(51,${(plot.top + plot.bottom) / 2}) rotate(-90)`)
  .attr('text-anchor', 'middle')
  .attr('font-size', fontSize)
  .text(yLabel)

// Legend
const legendY = 1263
const legendBase = 1278
const legend = svg.append('g').attr('font-size', fontSize)

legend.append('text')
  .attr('x', 806).attr('y', legendBase)
  .attr('text-anchor', 'end')
  .text(seriesNames[0])

legend.append('path')
  .attr('d', `M835,${legendY}H967M835,${legendY - 7}v14M967,${legendY - 7}v14`)
  .attr('fill', 'none')
  .attr('stroke', '#0000ff')
  .attr('stroke-opacity', 0.6)
  .attr('stroke-width', 2)

legend.append('circle')
  .attr('cx', 901).attr('cy', legendY).attr('r', pointRadius)
  .attr('fill', '#0000ff')

legend.append('text')
  .attr('x', 1371).attr('y', legendBase)
  .attr('text-anchor', 'end')
  .text(seriesNames[1])

legend.append('path')
  .attr('d', `M1400,${legendY}H1535`)
  .attr('stroke', '#ff0000')
  .attr('stroke-width', 2.5)
  .attr('stroke-dasharray', '10,8')

legend.append('path')
  .attr('d', `M1400,${legendY - 7}v14M1535,${legendY - 7}v14`)
  .attr('stroke', '#ff0000')
  .attr('stroke-width', 2)

legend.append('circle')
  .attr('cx', 1468).attr('cy', legendY).attr('r', pointRadius)
  .attr('fill', '#ff0000')
</script>
</body>
</html>
